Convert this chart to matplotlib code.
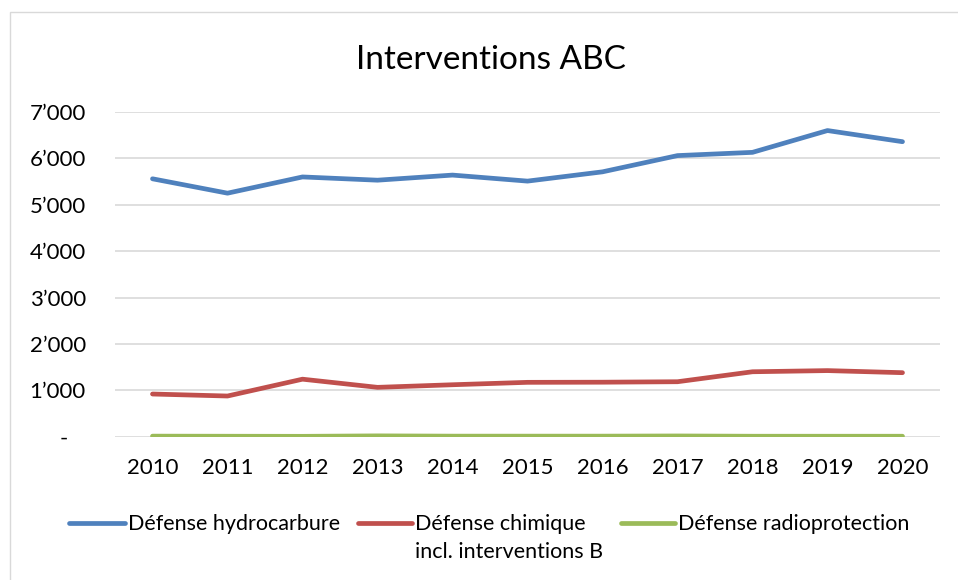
import matplotlib.pyplot as plt
from matplotlib.lines import Line2D
from matplotlib.patches import Rectangle
from matplotlib.ticker import FuncFormatter

# Données
years = [2010, 2011, 2012, 2013, 2014, 2015, 2016, 2017, 2018, 2019, 2020]
hydrocarbure = [5560, 5250, 5600, 5530, 5640, 5510, 5710, 6060, 6130, 6600, 6360]
chimique = [920, 877, 1240, 1064, 1120, 1172, 1175, 1185, 1400, 1425, 1380]
radioprotection = [12, 10, 8, 18, 12, 12, 12, 16, 10, 10, 10]

labels = ["Défense hydrocarbure", "Défense chimique\nincl. interventions B", "Défense radioprotection"]
colors = ["#4F81BD", "#C0504D", "#9BBB59"]

plt.rcParams['font.family'] = ['Lato', 'DejaVu Sans']

fig = plt.figure(figsize=(9.58, 5.8), dpi=100)
ax = fig.add_axes([115 / 958, 1 - 436.7 / 580, (940 - 115) / 958, (436.7 - 112) / 580])

x = list(range(len(years)))
for serie, c in zip([hydrocarbure, chimique, radioprotection], colors):
    ax.plot(x, serie, color=c, linewidth=3.4, solid_capstyle='round', solid_joinstyle='round', zorder=3)

ax.set_xlim(-0.5, len(years) - 0.5)
ax.set_ylim(0, 7000)
ax.set_yticks(range(0, 7001, 1000))
ax.set_xticks(x)
ax.set_xticklabels([str(y) for y in years])


def fmt(v, pos):
    # format comptable : zéro affiché comme un tiret
    if v == 0:
        return "-\u00a0\u00a0\u00a0"
    return f"{int(v):,}".replace(",", "\u2019")


ax.yaxis.set_major_formatter(FuncFormatter(fmt))
ax.grid(axis='y', color='#D9D9D9', linewidth=1.2, zorder=0)
for s in ax.spines.values():
    s.set_visible(False)
ax.tick_params(length=0, labelsize=16, colors='#000000')
ax.tick_params(axis='y', pad=21)
ax.tick_params(axis='x', pad=15)

fig.text(0.512, 1 - 60 / 580, "Interventions ABC", ha='center', va='center', fontsize=24)

# Légende dessinée à la main (style Excel)
leg_y = 1 - 523 / 580
line_gap = 28 / 580
handles_x = [(69, 125), (358, 412), (621, 675)]
for (x0, x1), c, lab in zip(handles_x, colors, labels):
    fig.add_artist(Line2D([x0 / 958, x1 / 958], [leg_y, leg_y], color=c, linewidth=3.4,
                          solid_capstyle='round', transform=fig.transFigure))
    for i, part in enumerate(lab.split("\n")):
        fig.text((x1 + 3) / 958, leg_y - i * line_gap - 1.5 / 580, part, ha='left', va='center',
                 fontsize=15.5, transform=fig.transFigure)

# Cadre du graphique
fig.add_artist(Rectangle((10 / 958, -0.05), 1.0, 1 - 12 / 580 + 0.05, fill=False,
                         edgecolor='#D9D9D9', linewidth=1, transform=fig.transFigure))

fig.savefig("out.png", dpi=100)
